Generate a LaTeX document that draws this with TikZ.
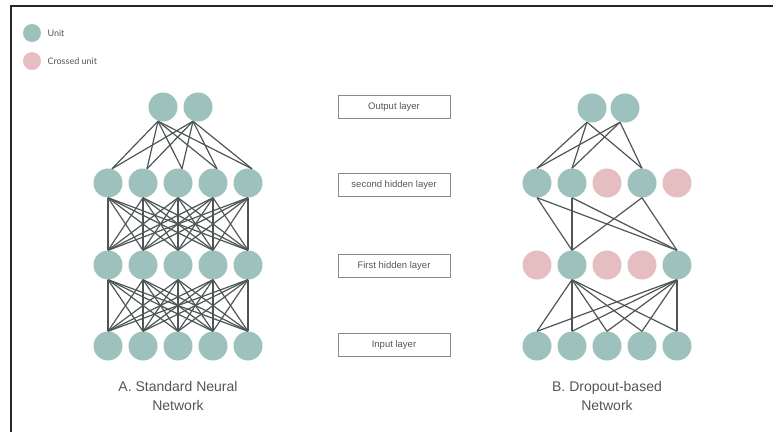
\documentclass[tikz,border=0pt]{standalone}
\usepackage{fontspec}
\setmainfont{Liberation Sans}
\newfontfamily\latofont{Lato}
\usetikzlibrary{calc}
\definecolor{unitc}{HTML}{9DC1BC}
\definecolor{xunitc}{HTML}{E6BDC0}
\definecolor{linec}{HTML}{4F5555}
\definecolor{boxc}{HTML}{8A8A8A}
\definecolor{textc}{HTML}{555555}
\begin{document}
\begin{tikzpicture}[x=1pt,y=-1pt,
  unit/.style={circle,fill=unitc,minimum size=29pt,inner sep=0pt},
  xunit/.style={circle,fill=xunitc,minimum size=29pt,inner sep=0pt},
  legunit/.style={circle,minimum size=18pt,inner sep=0pt},
  legtext/.style={anchor=west,font=\latofont\fontsize{9}{11}\selectfont,text=textc},
  conn/.style={draw=linec,line width=1.2pt},
  layerbox/.style={draw=boxc,line width=0.8pt,minimum width=112pt,minimum height=23pt,inner sep=0pt,font=\fontsize{9.5}{11}\selectfont,text=textc},
  caption/.style={align=center,font=\fontsize{14}{19}\selectfont,text=textc}]
\useasboundingbox (0,0) rectangle (773,432);
% frame
\draw[line width=1.2pt,black!85] (11,432) -- (11,6) -- (773,6);
% legend
\node[legunit,fill=unitc] (lu) at (32,33) {};
\node[legtext] (lut) at (44,33) {Unit};
\node[legunit,fill=xunitc] (lx) at (32,61) {};
\node[legtext] (lxt) at (44,61) {Crossed unit};
% layer boxes
\node[layerbox] (bo) at (394,107) {Output layer};
\node[layerbox] (bh2) at (394,185) {second hidden layer};
\node[layerbox] (bh1) at (394,266) {First hidden layer};
\node[layerbox] (bi) at (394,345) {Input layer};
% left network
\node[unit] (Lo1) at (163,107) {};
\node[unit] (Lo2) at (198,107) {};
\foreach \k/\x in {1/108,2/143,3/178,4/213,5/248}{
  \node[unit] (Lh\k) at (\x,183) {};
  \node[unit] (Lg\k) at (\x,265) {};
  \node[unit] (Li\k) at (\x,346) {};
}
\foreach \i in {1,2}{\foreach \j in {1,...,5}{\draw[conn] ($(Lo\i.south)+(-5,-0.5)$) -- ($(Lh\j.north)+(4,0.5)$);}}
\foreach \i in {1,...,5}{\foreach \j in {1,...,5}{\draw[conn] (Lh\i.south) -- (Lg\j.north);}}
\foreach \i in {1,...,5}{\foreach \j in {1,...,5}{\draw[conn] (Lg\i.south) -- (Li\j.north);}}
% right network
\node[unit] (Ro1) at (592,108) {};
\node[unit] (Ro2) at (625,108) {};
\node[unit] (Rh1) at (537,183) {};
\node[unit] (Rh2) at (572,183) {};
\node[xunit] (Rh3) at (607,183) {};
\node[unit] (Rh4) at (642,183) {};
\node[xunit] (Rh5) at (677,183) {};
\node[xunit] (Rg1) at (537,265) {};
\node[unit] (Rg2) at (572,265) {};
\node[xunit] (Rg3) at (607,265) {};
\node[xunit] (Rg4) at (642,265) {};
\node[unit] (Rg5) at (677,265) {};
\foreach \k/\x in {1/537,2/572,3/607,4/642,5/677}{
  \node[unit] (Ri\k) at (\x,346) {};
}
\foreach \i in {1,2}{\foreach \j in {1,2,4}{\draw[conn] ($(Ro\i.south)+(-5,-0.5)$) -- (Rh\j.north);}}
\foreach \i in {1,2,4}{\foreach \j in {2,5}{\draw[conn] (Rh\i.south) -- (Rg\j.north);}}
\foreach \i in {2,5}{\foreach \j in {1,...,5}{\draw[conn] (Rg\i.south) -- (Ri\j.north);}}
% captions
\node[caption] (capA) at (178,396) {A. Standard Neural\\Network};
\node[caption] (capB) at (607,396) {B. Dropout-based\\Network};
\end{tikzpicture}
\end{document}
